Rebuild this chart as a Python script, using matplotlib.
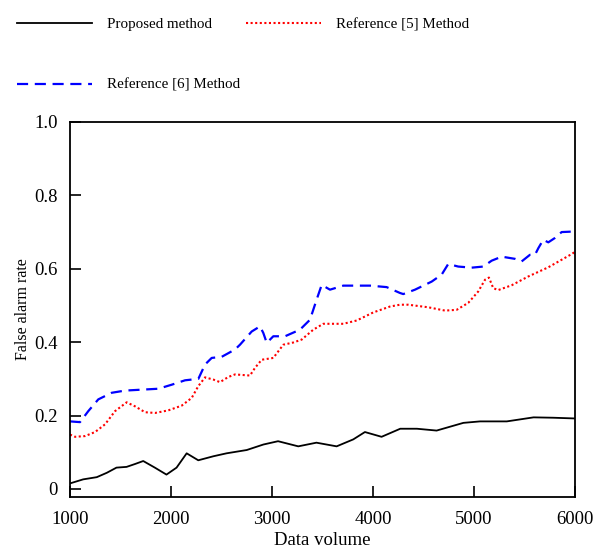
import matplotlib
matplotlib.use("Agg")
import matplotlib.pyplot as plt

plt.rcParams['font.family'] = ['Liberation Serif', 'DejaVu Serif']

# Proposed method
x_prop = [1000, 1130, 1265, 1365, 1460, 1560, 1645, 1725, 1840, 1955, 2055, 2155, 2270, 2420, 2550,
          2750, 2915, 3060, 3260, 3440, 3640, 3805, 3920, 4085, 4270, 4435, 4630, 4895, 5060, 5325,
          5590, 5785, 6000]
y_prop = [0.015, 0.026, 0.032, 0.044, 0.058, 0.060, 0.068, 0.076, 0.058, 0.039, 0.058, 0.097, 0.078,
          0.089, 0.097, 0.106, 0.121, 0.130, 0.116, 0.126, 0.116, 0.135, 0.155, 0.142, 0.164, 0.164,
          0.159, 0.180, 0.184, 0.184, 0.195, 0.194, 0.192]

# Reference [5]
x_ref5 = [1000, 1050, 1149, 1248, 1347, 1446, 1561, 1644, 1743, 1842, 1973, 2106, 2205, 2270, 2337,
          2419, 2485, 2567, 2634, 2782, 2832, 2898, 3013, 3112, 3211, 3294, 3409, 3508, 3706, 3839,
          4003, 4168, 4267, 4349, 4547, 4713, 4828, 4943, 5042, 5109, 5148, 5191, 5241, 5373, 5538,
          5736, 5967, 6000]
y_ref5 = [0.148, 0.142, 0.144, 0.155, 0.176, 0.212, 0.236, 0.225, 0.209, 0.207, 0.214, 0.227, 0.248,
          0.280, 0.304, 0.298, 0.291, 0.305, 0.312, 0.309, 0.330, 0.352, 0.357, 0.393, 0.399, 0.407,
          0.434, 0.450, 0.450, 0.459, 0.481, 0.497, 0.502, 0.502, 0.495, 0.486, 0.488, 0.507, 0.538,
          0.570, 0.576, 0.547, 0.542, 0.555, 0.579, 0.604, 0.640, 0.646]

# Reference [6]
x_ref6 = [1000, 1099, 1181, 1280, 1413, 1545, 1743, 1875, 2007, 2139, 2271, 2337, 2403, 2502, 2634,
          2683, 2799, 2881, 2914, 2948, 3013, 3129, 3277, 3376, 3442, 3492, 3574, 3706, 3970, 4135,
          4267, 4300, 4416, 4581, 4680, 4745, 4844, 4977, 5092, 5175, 5274, 5406, 5472, 5554, 5604,
          5637, 5686, 5736, 5802, 5868, 5950, 6000]
y_ref6 = [0.184, 0.182, 0.212, 0.244, 0.262, 0.268, 0.271, 0.273, 0.284, 0.296, 0.300, 0.339, 0.357,
          0.360, 0.380, 0.393, 0.429, 0.443, 0.425, 0.398, 0.416, 0.416, 0.434, 0.461, 0.516, 0.556,
          0.543, 0.554, 0.554, 0.550, 0.534, 0.531, 0.543, 0.565, 0.584, 0.613, 0.606, 0.603, 0.606,
          0.622, 0.633, 0.627, 0.620, 0.638, 0.638, 0.656, 0.679, 0.672, 0.684, 0.700, 0.701, 0.701]

x_ticks = [1000, 2000, 3000, 4000, 5000, 6000]
y_ticks = [0, 0.2, 0.4, 0.6, 0.8, 1.0]
y_tick_labels = ['0', '0.2', '0.4', '0.6', '0.8', '1.0']

fig = plt.figure(figsize=(6.12, 5.5), dpi=100)
ax = fig.add_axes([0.1144, 0.0964, 0.8251, 0.6818])

# ordre choisi pour que la légende (remplie par colonne) ressemble à l'original
ax.plot(x_prop, y_prop, color='black', lw=1.3, solid_joinstyle='round', label='Proposed method')
ax.plot(x_ref6, y_ref6, color='blue', lw=1.6, linestyle=(0, (5, 3)), label='Reference [6] Method')
ax.plot(x_ref5, y_ref5, color='red', lw=1.5, linestyle=(0, (1, 1.2)), label='Reference [5] Method')

ax.set_xlim(1000, 6000)
ax.set_ylim(-0.022, 1.0)
ax.set_xticks(x_ticks)
ax.set_yticks(y_ticks)
ax.set_yticklabels(y_tick_labels)
ax.tick_params(direction='in', length=8, width=1.2, labelsize=13.5)
ax.tick_params(axis='x', pad=10)
ax.tick_params(axis='y', pad=9)
for s in ax.spines.values():
    s.set_linewidth(1.3)

ax.set_xlabel('Data volume', fontsize=13.5, labelpad=3)
ax.set_ylabel('False alarm rate', fontsize=11.5, labelpad=2)

fig.legend(loc='upper left', bbox_to_anchor=(0.028, 0.968), ncol=2, frameon=False,
           fontsize=10.8, handlelength=5.0, handletextpad=1.0, columnspacing=0.35,
           labelspacing=3.15, borderpad=0, borderaxespad=0)

fig.savefig('out.png', dpi=100)
